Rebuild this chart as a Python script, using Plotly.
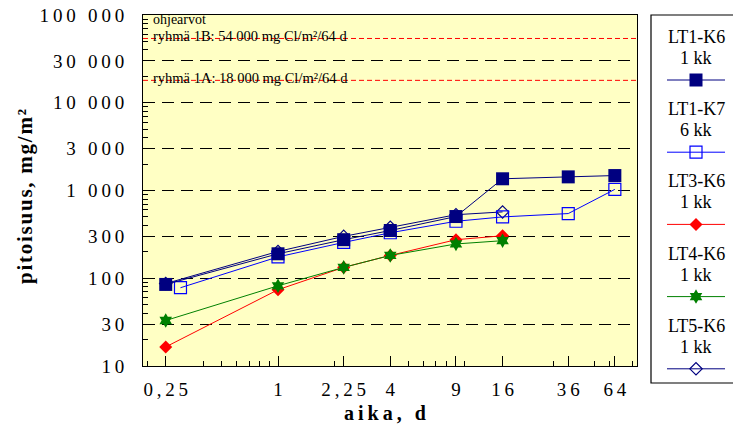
import plotly.graph_objects as go
import math

# ---------------- data ----------------
series_names = ["LT1-K6", "LT1-K7", "LT3-K6", "LT4-K6", "LT5-K6"]
series_sub = ["1 kk", "6 kk", "1 kk", "1 kk", "1 kk"]

lt1_k6_x = [0.25, 1, 2.25, 4, 9, 16, 36, 64]
lt1_k6_y = [85, 190, 275, 350, 505, 1360, 1430, 1480]
lt1_k7_x = [0.30, 1, 2.25, 4, 9, 16, 36, 64]
lt1_k7_y = [78, 175, 256, 330, 446, 500, 546, 1030]
lt3_k6_x = [0.25, 1, 2.25, 4, 9, 16]
lt3_k6_y = [16.5, 74, 133, 182, 275, 305]
lt4_k6_x = [0.25, 1, 2.25, 4, 9, 16]
lt4_k6_y = [33, 82, 133, 182, 246, 268]
lt5_k6_x = [0.25, 1, 2.25, 4, 9, 16]
lt5_k6_y = [87, 202, 300, 380, 530, 570]

x_tick_vals = [0.25, 1, 2.25, 4, 9, 16, 36, 64]
x_tick_text = ["0,25", "1", "2,25", "4", "9", "16", "36", "64"]
x_minor_vals = [0.2, 0.4, 0.5, 0.6, 0.7, 0.8, 0.9, 2, 5, 6, 7, 8, 10, 30, 50, 60, 80]
y_tick_vals = [10, 30, 100, 300, 1000, 3000, 10000, 30000, 100000]
y_tick_text = ["10", "30", "100", "300", "1 000", "3 000", "10 000", "30 000", "100 000"]
y_minor_vals = [m * 10 ** k for k in range(1, 5) for m in (2, 4, 5, 6, 7, 8, 9)]

guide_values = [54000, 18000]
guide_labels = ["ryhmä 1B: 54 000 mg Cl/m²/64 d", "ryhmä 1A: 18 000 mg Cl/m²/64 d"]
guide_title = "ohjearvot"
x_title = "aika, d"
y_title = "pitoisuus, mg/m²"

# ---------------- layout constants (pixels) ----------------
W, H = 733, 429
PL, PR, PT, PB = 143, 637, 15, 366
X1PX, XDEC = 278, 186.5
FONT = "Liberation Serif"
BG = "#FFFFC4"


def sp(s, gap="\u2009"):
    return gap.join(list(s))


styles = [
    dict(color="#000080", symbol="square", size=13, lw=0),
    dict(color="#0000FF", symbol="square-open", size=12, lw=1.2),
    dict(color="#FF0000", symbol="diamond", size=10, lw=0),
    dict(color="#008000", symbol="hexagram", size=11, lw=0),
    dict(color="#000080", symbol="diamond-open", size=9.5, lw=1.2),
]
xs = [lt1_k6_x, lt1_k7_x, lt3_k6_x, lt4_k6_x, lt5_k6_x]
ys = [lt1_k6_y, lt1_k7_y, lt3_k6_y, lt4_k6_y, lt5_k6_y]

fig = go.Figure()
draw_order = [4, 2, 3, 1, 0]
for i in draw_order:
    st = styles[i]
    fig.add_trace(go.Scatter(
        x=xs[i], y=ys[i], mode="lines+markers", name=series_names[i],
        line=dict(color=st["color"], width=1),
        marker=dict(symbol=st["symbol"], size=st["size"], color=st["color"],
                    line=dict(color=st["color"], width=st["lw"])),
        showlegend=False, cliponaxis=False))

# legend samples on an auxiliary pixel-unit axis
LEG_STEP = 72.2
for i, name in enumerate(series_names):
    st = styles[i]
    yy = 80 + LEG_STEP * i
    fig.add_trace(go.Scatter(x=[667, 725], y=[yy, yy], mode="lines",
                             line=dict(color=st["color"], width=1),
                             xaxis="x2", yaxis="y2", showlegend=False, hoverinfo="skip"))
    fig.add_trace(go.Scatter(x=[696], y=[yy], mode="markers",
                             marker=dict(symbol=st["symbol"], size=st["size"], color=st["color"],
                                         line=dict(color=st["color"], width=st["lw"])),
                             xaxis="x2", yaxis="y2", showlegend=False, hoverinfo="skip"))

annotations = []
for i, name in enumerate(series_names):
    annotations.append(dict(x=696, y=37 + LEG_STEP * i, xref="x2", yref="y2", text=name,
                            showarrow=False, font=dict(family=FONT, size=18, color="black"),
                            xanchor="center", yanchor="middle", borderpad=0))
    annotations.append(dict(x=696, y=58 + LEG_STEP * i, xref="x2", yref="y2", text=series_sub[i],
                            showarrow=False, font=dict(family=FONT, size=18, color="black"),
                            xanchor="center", yanchor="middle", borderpad=0))

shapes = [
    dict(type="rect", xref="x domain", yref="y domain", x0=0, x1=1, y0=0, y1=1,
         fillcolor=BG, line=dict(width=0), layer="below"),
    dict(type="rect", xref="paper", yref="paper", x0=651 / W, x1=1.02,
         y0=(H - 383) / H, y1=(H - 15) / H, line=dict(color="black", width=1.2)),
]
for v, lab in zip(guide_values, guide_labels):
    shapes.append(dict(type="line", xref="x domain", yref="y", x0=0, x1=1, y0=v, y1=v,
                       line=dict(color="#FF0000", width=1, dash="5px,3px")))
    annotations.append(dict(x=(152 - PL) / (PR - PL), y=math.log10(v), xref="x domain", yref="y",
                            text=lab, showarrow=False, xanchor="left", yanchor="middle", yshift=2,
                            borderpad=0, font=dict(family=FONT, size=14.5, color="black")))
annotations.append(dict(x=(152 - PL) / (PR - PL), y=(PB - 19) / (PB - PT), xref="x domain",
                        yref="y domain", text=guide_title, showarrow=False, xanchor="left",
                        yanchor="middle", borderpad=0, font=dict(family=FONT, size=14, color="black")))

annotations.append(dict(x=385 / W, y=(H - 413) / H, xref="paper", yref="paper", text="<b>" + sp(x_title) + "</b>",
                        showarrow=False, xanchor="center", yanchor="middle",
                        font=dict(family=FONT, size=20, color="black")))
annotations.append(dict(x=25 / W, y=(H - 197) / H, xref="paper", yref="paper",
                        text="<b>" + sp(y_title, "\u200a") + "</b>",
                        showarrow=False, xanchor="center", yanchor="middle", textangle=-90,
                        font=dict(family=FONT, size=21, color="black")))

xr = [(PL - X1PX) / XDEC, (PR - X1PX) / XDEC]

fig.update_layout(
    width=W, height=H, autosize=False,
    margin=dict(l=0, r=0, t=0, b=0, pad=0),
    paper_bgcolor="white", plot_bgcolor="white",
    showlegend=False,
    xaxis=dict(type="log", domain=[PL / W, PR / W], range=xr, tickmode="array",
               tickvals=x_tick_vals, ticktext=[sp(t) for t in x_tick_text],
               ticks="inside", ticklen=10, tickwidth=1, tickcolor="black",
               showline=True, linecolor="black", linewidth=1, mirror=True,
               showgrid=False, zeroline=False, automargin=False, ticklabelstandoff=6,
               tickfont=dict(family=FONT, size=19, color="black"),
               minor=dict(tickmode="array", tickvals=x_minor_vals, ticks="inside", ticklen=5,
                          tickcolor="black", tickwidth=1, showgrid=False)),
    yaxis=dict(type="log", domain=[(H - PB) / H, (H - PT) / H], range=[1, 5], tickmode="array",
               tickvals=y_tick_vals, ticktext=[sp(t) for t in y_tick_text],
               ticks="inside", ticklen=8, tickwidth=1, tickcolor="black",
               showline=True, linecolor="black", linewidth=1, mirror=True,
               showgrid=True, gridcolor="black", gridwidth=1, griddash="12px,7px",
               zeroline=False, automargin=False, ticklabelstandoff=14,
               tickfont=dict(family=FONT, size=19, color="black"),
               minor=dict(tickmode="array", tickvals=y_minor_vals, ticks="inside", ticklen=5,
                          tickcolor="black", tickwidth=1, showgrid=False)),
    xaxis2=dict(domain=[651 / W, 1], range=[651, 733], visible=False, anchor="y2", fixedrange=True),
    yaxis2=dict(domain=[(H - 383) / H, (H - 15) / H], range=[383, 15], visible=False, anchor="x2",
                fixedrange=True),
    shapes=shapes,
    annotations=annotations,
)

fig.write_html("out.html")
